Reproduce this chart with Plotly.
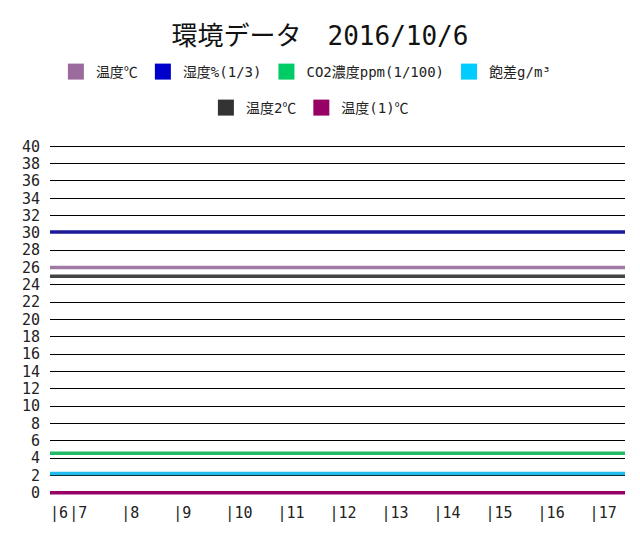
import plotly.graph_objects as go

# time of day (hours)
hours = [6.63, 7.5, 8.5, 9.5, 10.5, 11.5, 12.5, 13.5, 14.5, 15.5, 16.5, 17.68]
temp = [26.0, 26.0, 26.0, 26.0, 26.0, 26.0, 26.0, 26.0, 26.0, 26.0, 26.0, 26.0]
humid = [30.1, 30.1, 30.1, 30.1, 30.1, 30.1, 30.1, 30.1, 30.1, 30.1, 30.1, 30.1]
co2 = [4.55, 4.55, 4.55, 4.55, 4.55, 4.55, 4.55, 4.55, 4.55, 4.55, 4.55, 4.55]
vpd = [2.2, 2.2, 2.2, 2.2, 2.2, 2.2, 2.2, 2.2, 2.2, 2.2, 2.2, 2.2]
temp2 = [25.0, 25.0, 25.0, 25.0, 25.0, 25.0, 25.0, 25.0, 25.0, 25.0, 25.0, 25.0]
temp1 = [0.0, 0.0, 0.0, 0.0, 0.0, 0.0, 0.0, 0.0, 0.0, 0.0, 0.0, 0.0]

tick_vals = [6.63, 7, 8, 9, 10, 11, 12, 13, 14, 15, 16, 17]
tick_text = ["|6", "|7", "|8", "|9", "|10", "|11", "|12", "|13", "|14", "|15", "|16", "|17"]

names = ["温度℃", "湿度%(1/3)", "CO2濃度ppm(1/100)", "飽差g/m³", "温度2℃", "温度(1)℃"]
colors = ["#9C6B9E", "#0000CC", "#00CC66", "#00CCFF", "#333333", "#990066"]
line_colors = ["#A07AA5", "#1A1A99", "#22BB66", "#22BBEE", "#444444", "#990066"]
series = [temp, humid, co2, vpd, temp2, temp1]

FONT = "DejaVu Sans Mono, Noto Sans CJK JP, monospace"

fig = go.Figure()
for name, lc, ys in zip(names, line_colors, series):
    fig.add_trace(go.Scatter(x=hours, y=ys, mode="lines", name=name,
                             line=dict(color=lc, width=3.5), showlegend=False))

for i, (name, c) in enumerate(zip(names, colors)):
    fig.add_trace(go.Scatter(x=[None], y=[None], mode="markers", name=name,
                             marker=dict(symbol="square", size=17, color=c),
                             legend="legend" if i < 4 else "legend2"))

fig.update_layout(
    width=640, height=540,
    margin=dict(l=50, r=15, t=142, b=43),
    paper_bgcolor="white", plot_bgcolor="white",
    font=dict(family=FONT, size=14, color="#222222"),
    title=dict(text="環境データ　2016/10/6", x=0.5, xanchor="center",
               y=1 - 36 / 540, yanchor="middle", yref="container",
               font=dict(size=26, color="#111111")),
    legend=dict(orientation="h", x=0.445, xanchor="center", y=1 - 72 / 540,
                yanchor="middle", yref="container", itemwidth=30,
                font=dict(size=14), bgcolor="rgba(0,0,0,0)"),
    legend2=dict(orientation="h", x=0.452, xanchor="center", y=1 - 108 / 540,
                 yanchor="middle", yref="container", itemwidth=30,
                 font=dict(size=14), bgcolor="rgba(0,0,0,0)"),
    xaxis=dict(range=[6.63, 17.68], tickvals=tick_vals, ticktext=tick_text,
               showgrid=False, zeroline=False, showline=False, ticks="",
               tickangle=0, ticklabelposition="outside right",
               ticklabelstandoff=5, tickfont=dict(size=15)),
    yaxis=dict(range=[-0.5, 40.5], tickvals=list(range(0, 41, 2)),
               showgrid=True, gridcolor="black", gridwidth=1,
               zeroline=False, showline=False, ticks="", ticklabelstandoff=9,
               tickfont=dict(size=15)),
)

fig.write_html("out.html")
